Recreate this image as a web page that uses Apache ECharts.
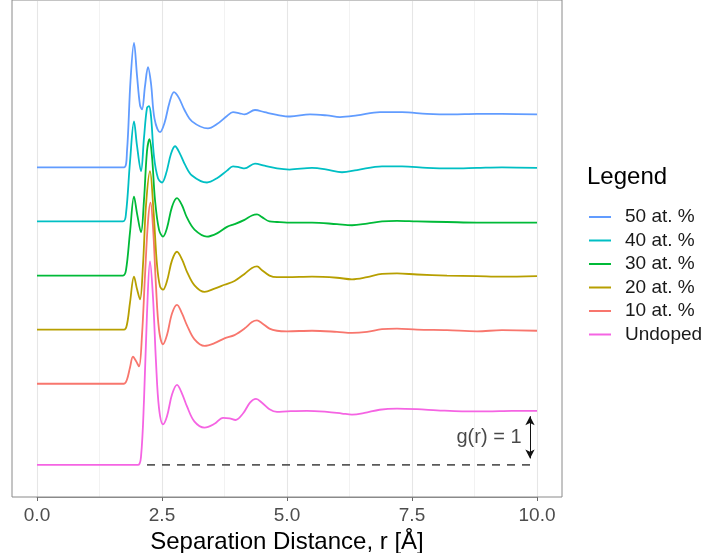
<!DOCTYPE html>
<html>
<head>
<meta charset="utf-8">
<script src="https://cdn.jsdelivr.net/npm/echarts@6/dist/echarts.min.js"></script>
<style>
html,body{margin:0;padding:0;background:#fff;}
#chart{width:717px;height:553px;}
</style>
</head>
<body>
<div id="chart"></div>
<script>
// Series names (legend order) and colours
var names = ['50 at. %', '40 at. %', '30 at. %', '20 at. %', '10 at. %', 'Undoped'];
var colors = ['#619CFF', '#00BFC4', '#00BA38', '#B79F00', '#F8766D', '#F564E3'];
// vertical offsets applied to each curve (in g(r) units)
var offsets = [5.5, 4.5, 3.5, 2.5, 1.5, 0];

// r values (Å) and g(r) values
var r50 = [0, 1.74, 1.8, 1.87, 1.94, 2.0, 2.06, 2.1, 2.16, 2.22, 2.28, 2.35, 2.46, 2.55, 2.65, 2.74, 2.84, 2.95, 3.1, 3.42, 3.6, 3.8, 3.92, 4.05, 4.15, 4.36, 4.55, 4.8, 5.06, 5.46, 5.8, 6.06, 6.4, 6.86, 7.3, 7.8, 8.3, 8.8, 9.3, 10];
var g50 = [0, 0, 0.3, 1.6, 2.3, 1.7, 1.15, 1.07, 1.5, 1.85, 1.55, 0.9, 0.65, 0.82, 1.2, 1.39, 1.28, 1.06, 0.85, 0.72, 0.8, 0.95, 1.02, 1.0, 0.98, 1.06, 1.02, 0.97, 0.94, 0.98, 0.96, 0.93, 0.96, 1.02, 1.02, 0.99, 0.98, 0.99, 0.99, 0.98];

var r40 = [0, 1.72, 1.78, 1.86, 1.94, 2.0, 2.08, 2.14, 2.2, 2.24, 2.28, 2.34, 2.42, 2.5, 2.58, 2.68, 2.76, 2.86, 2.96, 3.1, 3.4, 3.6, 3.8, 3.92, 4.05, 4.15, 4.36, 4.55, 4.8, 5.05, 5.5, 5.8, 6.1, 6.4, 6.9, 7.3, 7.8, 8.3, 8.8, 9.3, 10];
var g40 = [0, 0, 0.15, 1.1, 1.85, 1.4, 0.93, 1.55, 2.1, 2.13, 1.95, 1.2, 0.8, 0.72, 0.88, 1.25, 1.39, 1.25, 1.05, 0.85, 0.72, 0.8, 0.94, 1.02, 1.0, 0.98, 1.07, 1.03, 0.98, 0.96, 0.99, 0.96, 0.91, 0.95, 1.02, 1.02, 0.99, 0.98, 0.99, 1.0, 0.99];

var r30 = [0, 1.72, 1.78, 1.86, 1.94, 2.0, 2.08, 2.14, 2.2, 2.25, 2.3, 2.36, 2.44, 2.52, 2.6, 2.7, 2.8, 2.9, 3.0, 3.15, 3.4, 3.6, 3.8, 3.95, 4.15, 4.3, 4.4, 4.5, 4.65, 4.8, 5.0, 5.5, 6.0, 6.3, 6.6, 6.9, 7.2, 7.6, 8.2, 8.8, 9.3, 10];
var g30 = [0, 0, 0.1, 0.8, 1.46, 1.15, 0.8, 1.4, 2.3, 2.52, 2.2, 1.4, 0.85, 0.72, 0.88, 1.27, 1.43, 1.3, 1.07, 0.85, 0.72, 0.78, 0.9, 0.95, 1.03, 1.11, 1.13, 1.08, 1.0, 0.99, 0.98, 0.98, 0.95, 0.93, 0.96, 1.0, 1.01, 1.0, 0.99, 0.98, 0.98, 0.98];

var r20 = [0, 1.74, 1.8, 1.86, 1.94, 2.0, 2.06, 2.12, 2.18, 2.26, 2.33, 2.4, 2.46, 2.52, 2.6, 2.7, 2.8, 2.9, 3.0, 3.15, 3.35, 3.55, 3.75, 3.95, 4.15, 4.3, 4.4, 4.5, 4.65, 4.8, 5.0, 5.5, 6.0, 6.3, 6.6, 6.9, 7.2, 7.6, 8.2, 8.8, 9.3, 10];
var g20 = [0, 0, 0.1, 0.5, 0.98, 0.75, 0.56, 1.2, 2.3, 2.93, 2.2, 1.2, 0.8, 0.74, 0.9, 1.28, 1.44, 1.3, 1.07, 0.82, 0.7, 0.76, 0.83, 0.9, 1.03, 1.14, 1.17, 1.1, 1.0, 0.97, 0.97, 0.98, 0.96, 0.93, 0.97, 1.03, 1.04, 1.02, 1.0, 0.99, 0.98, 0.99];

var r10 = [0, 1.74, 1.8, 1.86, 1.92, 1.98, 2.04, 2.1, 2.16, 2.22, 2.27, 2.32, 2.38, 2.44, 2.52, 2.6, 2.7, 2.8, 2.9, 3.0, 3.15, 3.35, 3.55, 3.75, 3.95, 4.15, 4.3, 4.4, 4.5, 4.65, 4.8, 5.0, 5.5, 6.0, 6.3, 6.6, 6.9, 7.2, 7.6, 8.2, 8.8, 9.3, 10];
var g10 = [0, 0, 0.08, 0.3, 0.5, 0.42, 0.32, 0.9, 2.0, 3.0, 3.35, 2.9, 1.8, 1.0, 0.73, 0.9, 1.3, 1.46, 1.3, 1.08, 0.82, 0.7, 0.75, 0.84, 0.9, 1.02, 1.14, 1.17, 1.12, 1.02, 0.98, 0.97, 0.98, 0.96, 0.94, 0.96, 1.01, 1.02, 1.0, 0.99, 0.97, 0.99, 0.98];

var r0 = [0, 1.9, 2.02, 2.08, 2.14, 2.2, 2.26, 2.32, 2.38, 2.44, 2.52, 2.6, 2.7, 2.8, 2.9, 3.0, 3.15, 3.35, 3.55, 3.72, 3.85, 3.97, 4.12, 4.26, 4.38, 4.5, 4.65, 4.8, 5.0, 5.4, 5.8, 6.1, 6.3, 6.55, 6.85, 7.2, 7.6, 8.0, 8.5, 9.0, 9.5, 10];
var g0 = [0, 0, 0, 0.15, 1.2, 2.8, 3.76, 3.1, 1.9, 1.05, 0.75, 0.9, 1.3, 1.48, 1.32, 1.08, 0.8, 0.69, 0.76, 0.87, 0.86, 0.83, 0.95, 1.15, 1.22, 1.15, 1.03, 0.98, 0.99, 1.0, 0.98, 0.95, 0.93, 0.96, 1.02, 1.04, 1.03, 1.01, 0.99, 0.99, 1.0, 1.0];

var rAll = [r50, r40, r30, r20, r10, r0];
var gAll = [g50, g40, g30, g20, g10, g0];

// x tick labels
var xTicks = [0, 2.5, 5, 7.5, 10];

// annotation: dashed g=0 reference line, arrow spanning g=0..1 and its label
var dashLine = [[2.2, 0], [10, 0]];
var arrowSpan = [[9.86, 0.12], [9.86, 0.9]];
var annotLabel = ['g(r) = 1'];
var annotPos = [9.7, 0.5];

var FONT = '"Liberation Sans", Arial, Helvetica, sans-serif';

var series = [];
for (var k = 0; k < names.length; k++) {
  var data = rAll[k].map(function (x, i) { return [x, gAll[k][i] + offsets[k]]; });
  series.push({
    name: names[k],
    type: 'line',
    xAxisIndex: 1, yAxisIndex: 1,
    data: data,
    smooth: 0.35,
    showSymbol: false,
    symbol: 'none',
    lineStyle: { color: colors[k], width: 1.8 },
    itemStyle: { color: colors[k] },
    z: 3 + (names.length - k)
  });
}
series.push({
  name: 'ref',
  type: 'line',
  xAxisIndex: 1, yAxisIndex: 1,
  data: dashLine,
  symbol: 'none',
  lineStyle: { color: '#5a5a5a', width: 1.6, type: [8, 7] },
  z: 2,
  markLine: {
    silent: true,
    symbol: ['arrow', 'arrow'],
    symbolSize: [7, 9],
    label: { show: false },
    lineStyle: { color: '#111', width: 1, type: 'solid' },
    data: [[{ coord: arrowSpan[0] }, { coord: arrowSpan[1] }]]
  }
});
series.push({
  name: 'label',
  type: 'scatter',
  xAxisIndex: 1, yAxisIndex: 1,
  data: [annotPos],
  symbolSize: 1,
  itemStyle: { color: 'rgba(0,0,0,0)' },
  z: 10,
  label: {
    show: true, position: 'left', distance: 0,
    formatter: annotLabel[0],
    fontSize: 20, color: '#1a1a1a', fontFamily: FONT
  }
});

var chart = echarts.init(document.getElementById('chart'), null, { renderer: 'canvas' });
chart.setOption({
  animation: false,
  backgroundColor: '#fff',
  title: {
    text: 'Legend',
    left: 582, top: 160,
    textStyle: { fontSize: 24, fontWeight: 'normal', color: '#000', fontFamily: FONT }
  },
  legend: {
    data: names,
    orient: 'vertical',
    left: 584, top: 202,
    icon: 'rect',
    itemWidth: 22, itemHeight: 2,
    itemGap: 3.5,
    textStyle: { fontSize: 19, lineHeight: 20, color: '#1a1a1a', fontFamily: FONT, padding: [0, 0, 0, 9] }
  },
  grid: [
    { left: 12, right: 155, top: 0, bottom: 56, show: true, borderColor: '#8a8a8a', borderWidth: 1, backgroundColor: 'transparent', z: 1, containLabel: false, outerBoundsMode: 'none' },
    { left: 37, right: 180, top: 1, bottom: 56, containLabel: false, outerBoundsMode: 'none' }
  ],
  xAxis: [
    { gridIndex: 0, type: 'value', min: 0, max: 1, show: false },
    {
      gridIndex: 1, type: 'value', min: 0, max: 10, interval: 2.5,
      axisLine: { show: true, onZero: false, lineStyle: { color: '#8a8a8a', width: 1 } },
      axisTick: { show: true, length: 4, lineStyle: { color: '#666', width: 1 } },
      minorTick: { show: false, splitNumber: 2 },
      splitLine: { show: true, lineStyle: { color: '#e6e6e6', width: 1.1 } },
      minorSplitLine: { show: true, lineStyle: { color: '#efefef', width: 0.8 } },
      axisLabel: {
        fontSize: 19, color: '#4D4D4D', fontFamily: FONT, margin: 9,
        formatter: function (v) { return xTicks.indexOf(v) >= 0 ? v.toFixed(1) : ''; }
      },
      name: 'Separation Distance, r [Å]',
      nameLocation: 'middle', nameGap: 31,
      nameTextStyle: { fontSize: 24, color: '#000', fontFamily: FONT }
    }
  ],
  yAxis: [
    { gridIndex: 0, type: 'value', min: 0, max: 1, show: false },
    { gridIndex: 1, type: 'value', min: -0.593, max: 8.575, show: false }
  ],
  series: series
});
</script>
</body>
</html>
